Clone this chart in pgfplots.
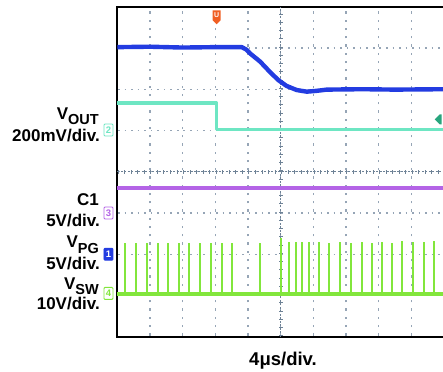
\documentclass[border=0pt]{standalone}
\usepackage{pgfplots}
\pgfplotsset{compat=1.18}
\usepackage{pgfplotstable}
\usepackage{fontspec}
\setmainfont{Liberation Sans}
\usetikzlibrary{shapes.symbols}
\definecolor{vout}{RGB}{35,60,225}
\definecolor{chtwo}{RGB}{110,230,195}
\definecolor{cone}{RGB}{180,100,230}
\definecolor{vsw}{RGB}{130,230,60}
\definecolor{gridc}{RGB}{150,165,182}
\definecolor{centc}{RGB}{110,130,150}
\definecolor{trig}{RGB}{240,95,35}
\definecolor{lvl}{RGB}{40,165,125}
\newcommand\lab{\fontsize{17bp}{20bp}\selectfont\bfseries}
\newcommand\subf{\fontsize{14.5bp}{15bp}\selectfont\bfseries}
\newcommand\mk{\fontsize{9.5bp}{9.5bp}\selectfont\bfseries}
\tikzset{chm/.style={rectangle, rounded corners=1bp, inner sep=0pt, minimum width=9bp, minimum height=12bp, font=\mk, line width=0.9bp}}

\pgfplotstableread{
x y h
0.236 1.035 1.245
0.572 1.035 1.240
0.900 1.035 1.240
1.237 1.035 1.225
1.561 1.035 1.245
1.879 1.035 1.240
2.204 1.035 1.240
2.531 1.035 1.225
2.868 1.035 1.240
3.196 1.035 1.225
3.520 1.035 1.240
4.377 1.035 1.240
5.011 1.035 1.355
5.256 1.035 1.270
5.470 1.035 1.270
5.663 1.035 1.255
5.877 1.035 1.270
6.165 1.035 1.255
6.480 1.035 1.245
6.826 1.035 1.255
7.153 1.035 1.245
7.490 1.035 1.270
7.787 1.035 1.235
8.102 1.035 1.255
8.408 1.035 1.235
8.724 1.035 1.280
9.042 1.035 1.270
9.379 1.035 1.255
9.694 1.035 1.280
}\spikes

\begin{document}
\begin{tikzpicture}
\useasboundingbox (0,0) rectangle (443bp,372bp);
\begin{axis}[
  at={(117.3bp,35.3bp)}, anchor=south west, scale only axis,
  width=326.7bp, height=330bp,
  xmin=0, xmax=10, ymin=0, ymax=8,
  xtick={1,...,9}, ytick={1,...,7},
  xticklabels={}, yticklabels={},
  major tick length=0pt,
  grid=major,
  x grid style={gridc, line width=1.1bp, dash pattern=on 2.4bp off 5.85bp, dash phase=7.05bp},
  y grid style={gridc, line width=1.1bp, dash pattern=on 1.6bp off 4.934bp, dash phase=5.734bp},
  axis line style={black, line width=2bp},
  clip=false,
]
% center crosshair
\addplot[centc, line width=0.8bp, dash pattern=on 2bp off 1.5bp] coordinates {(0,4) (10,4)};
\addplot[centc, line width=0.8bp, dash pattern=on 2bp off 1.5bp] coordinates {(5,0) (5,8)};
\addplot[centc, line width=4bp, dash pattern=on 0.9bp off 5.634bp, dash phase=6.084bp] coordinates {(0,4) (10,4)};
\addplot[centc, line width=4bp, dash pattern=on 0.9bp off 7.35bp, dash phase=7.8bp] coordinates {(5,0) (5,8)};
% channel 2
\addplot[chtwo, line width=3.5bp, line join=round] coordinates {(0,5.665) (3.04,5.665) (3.04,5.02) (10,5.02)};
% VOUT
\addplot[vout, line width=4.4bp, line join=round] coordinates {
(0,7.02) (1.0,7.03) (2.0,7.01) (3.0,7.02) (3.81,7.02) (3.95,6.96) (4.06,6.87) (4.37,6.67)
(4.67,6.42) (4.93,6.22) (5.18,6.08) (5.49,5.98) (5.80,5.94) (6.10,5.96) (6.41,5.99)
(7.5,6.00) (8.5,5.99) (10,6.00)};
% C1
\addplot[cone, line width=4bp] coordinates {(0,3.60) (10,3.60)};
% VSW
\addplot[vsw, line width=4bp] coordinates {(0,1.035) (10,1.035)};
\addplot[vsw, line width=1.9bp, quiver={u=0, v=\thisrow{h}}] table[x=x, y=y] {\spikes};
% channel markers
\node[chm, draw=chtwo, fill=white, text=chtwo] at (axis cs:-0.27,5.01) {2};
\node[chm, draw=cone, fill=white, text=cone] at (axis cs:-0.27,3.0) {3};
\node[chm, draw=vout, fill=vout, text=white] at (axis cs:-0.27,2.0) {1};
\node[chm, draw=vsw, fill=white, text=vsw] at (axis cs:-0.27,1.05) {4};
\node[signal, signal to=south, fill=trig, text=white, font=\fontsize{7bp}{7bp}\selectfont\bfseries, inner sep=0.6bp, minimum width=8bp, minimum height=13bp] at (axis cs:3.04,7.79) {U};
\node[signal, signal to=west, fill=lvl, inner sep=0pt, minimum width=7bp, minimum height=10bp] at (axis cs:9.9,5.27) {};
\end{axis}
\node[anchor=base east, inner sep=0, font=\lab] at (99bp,252.7bp) {V\raisebox{-5.5bp}{\subf OUT}};
\node[anchor=base east, inner sep=0, font=\lab] at (100bp,230.3bp) {200mV/div.};
\node[anchor=base east, inner sep=0, font=\lab] at (99bp,166bp) {C1};
\node[anchor=base east, inner sep=0, font=\lab] at (100bp,145.3bp) {5V/div.};
\node[anchor=base east, inner sep=0, font=\lab] at (99bp,124bp) {V\raisebox{-5.5bp}{\subf PG}};
\node[anchor=base east, inner sep=0, font=\lab] at (100bp,102.3bp) {5V/div.};
\node[anchor=base east, inner sep=0, font=\lab] at (99bp,82.3bp) {V\raisebox{-4.5bp}{\subf SW}};
\node[anchor=base east, inner sep=0, font=\lab] at (100bp,62.3bp) {10V/div.};
\node[anchor=base, inner sep=0, font=\fontsize{18.5bp}{20bp}\selectfont\bfseries] at (283bp,7bp) {4μs/div.};
\end{tikzpicture}
\end{document}
